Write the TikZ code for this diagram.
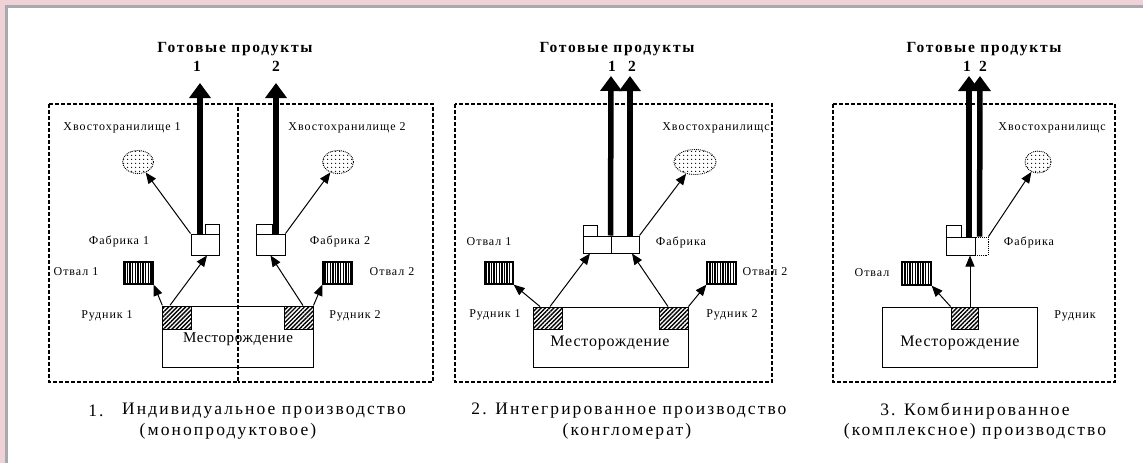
\documentclass[tikz,border=0pt]{standalone}
\usepackage{fontspec}
\setmainfont{Liberation Serif}
\usetikzlibrary{arrows.meta,patterns.meta,shapes.geometric}
\definecolor{pinkbg}{HTML}{F0D2D6}
\definecolor{frameg}{HTML}{A6AAAE}
\tikzset{
  lbl/.style={inner sep=0pt, font=\fontsize{12}{13}\selectfont\addfontfeature{LetterSpace=8}},
  ttl/.style={inner sep=0pt, font=\fontsize{15.5}{17}\selectfont\bfseries\addfontfeature{LetterSpace=11}},
  num/.style={inner sep=0pt, font=\fontsize{15.5}{17}\selectfont\bfseries},
  captxt/.style={inner sep=0pt, font=\fontsize{17.5}{19}\selectfont\addfontfeature{LetterSpace=12}},
  deptxt/.style={inner sep=0pt, font=\fontsize{15}{16}\selectfont\addfontfeature{LetterSpace=4}},
  deptxtb/.style={inner sep=0pt, font=\fontsize{16}{17}\selectfont\addfontfeature{LetterSpace=5}},
  zone/.style={draw, line width=1.1pt, dash pattern=on 4pt off 2pt},
  unit/.style={draw, line width=1pt, inner sep=0pt, fill=white},
  deposit/.style={draw, line width=1pt, inner sep=0pt},
  mine/.style={draw, line width=0.9pt, inner sep=0pt, pattern={Lines[angle=45,distance=3pt,line width=1.4pt]}},
  dump/.style={draw, line width=1.3pt, inner sep=0pt, pattern={Lines[angle=90,distance=2.6pt,line width=1.4pt]}},
  tail/.style={ellipse, draw, densely dotted, line width=0.9pt, inner sep=0pt, pattern={Dots[distance=4pt,radius=0.75pt]}},
  flow/.style={line width=1pt, -{Triangle[width=9pt,length=11pt]}},
  prod/.style={line width=5.5pt, -{Triangle[width=21pt,length=15pt]}},
}
\begin{document}
\begin{tikzpicture}[x=1pt,y=-1pt]
\useasboundingbox (0,0) rectangle (1143,463);
\fill[pinkbg] (0,0) rectangle (1143,463);
\fill[white] (6,6) rectangle (1143,463);
\draw[frameg, line width=2.5pt] (6.5,463) -- (6.5,6.5) -- (1143,6.5);

% ---------- Panel 1 ----------
\draw[zone] (49,104) rectangle (238,382);
\draw[zone] (238,104) -- (433,104) -- (433,382) -- (238,382);
\node[ttl] (t1) at (235,49) {Готовые продукты};
\node[num] (n11) at (197,66) {1};
\node[num] (n12) at (276,66) {2};
\node[lbl] (lt11) at (122,128) {Хвостохранилище 1};
\node[lbl] (lt12) at (347,128) {Хвостохранилище 2};
\node[tail, minimum width=31pt, minimum height=23pt] (e11) at (138,162) {};
\node[tail, minimum width=31pt, minimum height=23pt] (e12) at (338,162) {};
\node[unit, minimum width=28pt, minimum height=21pt] (f11) at (205,244.5) {};
\node[unit, minimum width=14pt, minimum height=10pt] (f11s) at (212,229) {};
\node[unit, minimum width=29pt, minimum height=21pt] (f12) at (270.5,244.5) {};
\node[unit, minimum width=16pt, minimum height=10pt] (f12s) at (264,229) {};
\node[lbl] (lf11) at (119,241) {Фабрика 1};
\node[lbl] (lf12) at (340,241) {Фабрика 2};
\node[dump, minimum width=29pt, minimum height=22pt] (d11) at (138.5,273) {};
\node[dump, minimum width=29pt, minimum height=22pt] (d12) at (337.5,273) {};
\node[lbl] (ld11) at (76,272) {Отвал 1};
\node[lbl] (ld12) at (392,272) {Отвал 2};
\node[deposit, minimum width=151pt, minimum height=61pt] (dep1) at (237.5,336.5) {};
\node[mine, minimum width=29pt, minimum height=23pt] (m11) at (176.5,317.5) {};
\node[mine, minimum width=29pt, minimum height=23pt] (m12) at (298.5,317.5) {};
\node[deptxt] (ldep1) at (238,339) {Месторождение};
\node[lbl] (lm11) at (107,316) {Рудник 1};
\node[lbl] (lm12) at (355,316) {Рудник 2};
\coordinate (p11) at (200,83);
\coordinate (p12) at (276,83);
\draw[prod] ([xshift=-5pt]f11.north) -- (p11);
\draw[prod] ([xshift=5.5pt]f12.north) -- (p12);
\draw[flow] (f11.north west) -- (e11);
\draw[flow] (f12.north east) -- (e12);
\draw[flow] ([xshift=-6.5pt]m11.north) -- ([xshift=2pt]f11.south);
\draw[flow] ([xshift=1pt]m11.north west) -- (d11.south east);
\draw[flow] ([xshift=4.5pt]m12.north) -- (f12.south);
\draw[flow] (m12.north east) -- (d12.south west);
\node[captxt] (c1n) at (96,411) {1.};
\node[captxt] (c1a) at (264,411) {Индивидуальное производство};
\node[captxt] (c1b) at (228,431) {(монопродуктовое)};

% ---------- Panel 2 ----------
\draw[zone] (455,104) rectangle (772,382);
\node[ttl] (t2) at (617,49) {Готовые продукты};
\node[num] (n21) at (612,66) {1};
\node[num] (n22) at (632,66) {2};
\node[lbl] (lt2) at (716,128) {Хвостохранилищс};
\node[tail, minimum width=42pt, minimum height=25pt] (e2) at (695,162) {};
\node[unit, minimum width=14pt, minimum height=11pt] (f2s) at (590,230.5) {};
\node[unit, minimum width=28pt, minimum height=17pt] (f2a) at (597,244.5) {};
\node[unit, minimum width=28pt, minimum height=17pt] (f2b) at (625,244.5) {};
\node[lbl] (lf2) at (681,242) {Фабрика};
\node[dump, minimum width=28pt, minimum height=22pt] (d21) at (499,273) {};
\node[dump, minimum width=29pt, minimum height=22pt] (d22) at (721.5,273) {};
\node[lbl] (ld21) at (489,242) {Отвал 1};
\node[lbl] (ld22) at (765,272) {Отвал 2};
\node[deposit, minimum width=155pt, minimum height=60pt] (dep2) at (610.5,337) {};
\node[mine, minimum width=29pt, minimum height=22pt] (m21) at (547.5,318) {};
\node[mine, minimum width=29pt, minimum height=22pt] (m22) at (673.5,318) {};
\node[deptxtb] (ldep2) at (610,343) {Месторождение};
\node[lbl] (lm21) at (495,315) {Рудник 1};
\node[lbl] (lm22) at (732,315) {Рудник 2};
\coordinate (p21) at (611,76);
\coordinate (p22) at (630,76);
\draw[prod] (f2b.north west) -- (p21);
\draw[prod] ([xshift=5pt]f2b.north) -- (p22);
\draw[flow] (f2b.north east) -- (e2);
\draw[flow] ([xshift=-7.5pt]m21.north) -- (d21.south east);
\draw[flow] ([xshift=2.5pt]m21.north) -- ([xshift=-7pt]f2a.south);
\draw[flow] ([xshift=-5.5pt]m22.north) -- ([xshift=7pt]f2b.south);
\draw[flow] (m22.north east) -- (d22.south west);
\node[captxt] (c2a) at (629,411) {2. Интегрированное производство};
\node[captxt] (c2b) at (627,431) {(конгломерат)};

% ---------- Panel 3 ----------
\draw[zone] (833,104) rectangle (1115,382);
\node[ttl] (t3) at (984,49) {Готовые продукты};
\node[num] (n31) at (967,66) {1};
\node[num] (n32) at (983,66) {2};
\node[lbl] (lt3) at (1052,128) {Хвостохранилищс};
\node[tail, minimum width=26pt, minimum height=22pt] (e3) at (1038,162) {};
\node[unit, minimum width=15pt, minimum height=12pt] (f3s) at (953.5,231) {};
\node[draw, densely dotted, line width=0.9pt, inner sep=0pt, minimum width=13pt, minimum height=18pt] (f3b) at (981.5,246) {};
\node[unit, minimum width=29pt, minimum height=18pt] (f3) at (960.5,246) {};
\node[lbl] (lf3) at (1029,242) {Фабрика};
\node[dump, minimum width=29pt, minimum height=23pt] (d3) at (916.5,273.5) {};
\node[lbl] (ld3) at (872,273) {Отвал};
\node[deposit, minimum width=155pt, minimum height=60pt] (dep3) at (959.5,337) {};
\node[mine, minimum width=27pt, minimum height=22pt] (m3) at (964.5,318) {};
\node[deptxtb] (ldep3) at (960,343) {Месторождение};
\node[lbl] (lm3) at (1075,316) {Рудник};
\coordinate (p31) at (969,76);
\coordinate (p32) at (980,76);
\draw[prod] ([xshift=8.5pt]f3.north) -- (p31);
\draw[prod] ([xshift=5pt]f3b.north west) -- (p32);
\draw[flow] (f3b.north east) -- (e3);
\draw[flow] (m3.north west) -- (d3.south east);
\draw[flow] ([xshift=5.5pt]m3.north) -- ([xshift=9.5pt]f3.south);
\node[captxt] (c3a) at (975,411) {3. Комбинированное};
\node[captxt] (c3b) at (975,431) {(комплексное) производство};
\end{tikzpicture}
\end{document}
